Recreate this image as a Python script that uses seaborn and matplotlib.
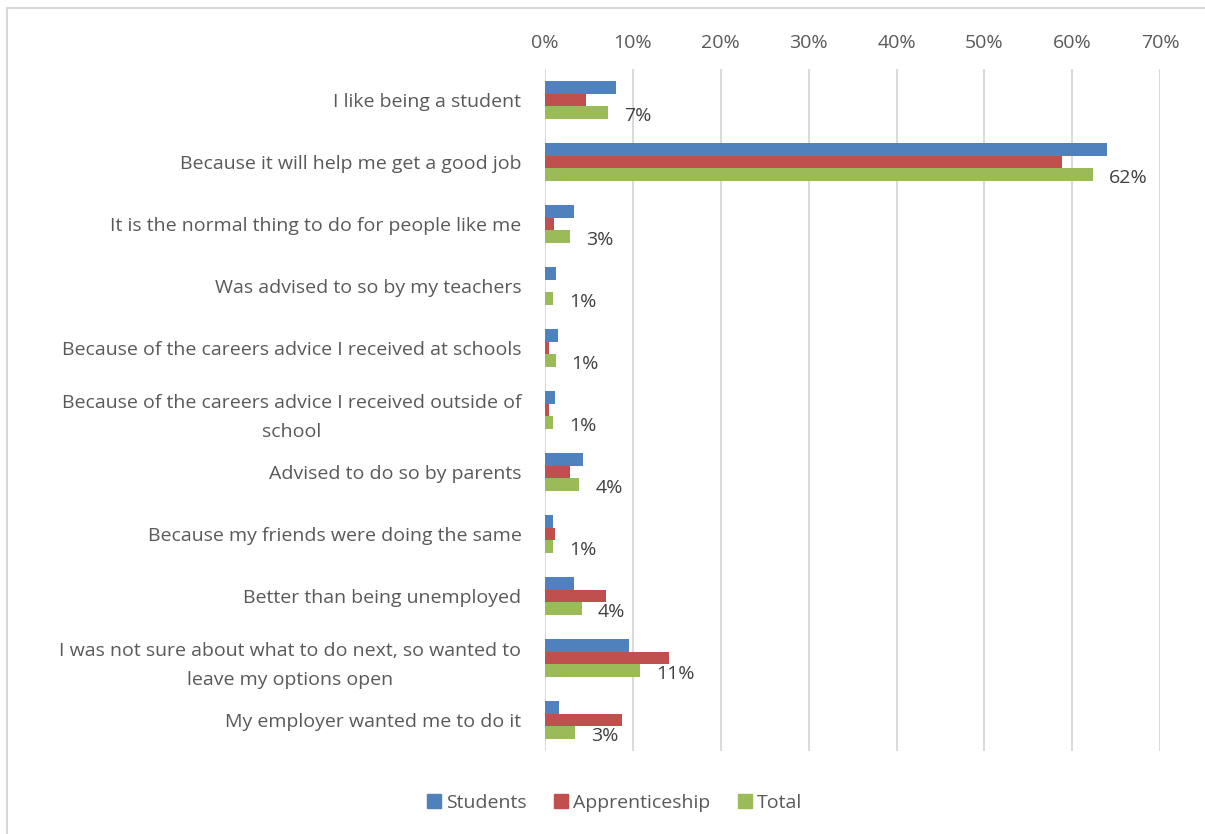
import matplotlib
matplotlib.use("Agg")
import matplotlib.pyplot as plt
from matplotlib.lines import Line2D
from matplotlib.ticker import PercentFormatter
import seaborn as sns
import pandas as pd

# Survey: reasons for choosing the current route
reasons = [
    "I like being a student",
    "Because it will help me get a good job",
    "It is the normal thing to do for people like me",
    "Was advised to so by my teachers",
    "Because of the careers advice I received at schools",
    "Because of the careers advice I received outside of\nschool",
    "Advised to do so by parents",
    "Because my friends were doing the same",
    "Better than being unemployed",
    "I was not sure about what to do next, so wanted to\nleave my options open",
    "My employer wanted me to do it",
]
students = [8.1, 64.0, 3.3, 1.3, 1.5, 1.1, 4.3, 0.9, 3.3, 9.6, 1.6]
apprenticeship = [4.7, 58.8, 1.0, 0.0, 0.5, 0.5, 2.8, 1.1, 6.9, 14.1, 8.8]
total = [7.2, 62.4, 2.8, 0.9, 1.2, 0.9, 3.9, 0.9, 4.2, 10.8, 3.4]
series_names = ["Students", "Apprenticeship", "Total"]
palette = ["#4F81BD", "#C0504D", "#9BBB59"]
x_ticks = [0, 10, 20, 30, 40, 50, 60, 70]

rows = []
for name, vals in zip(series_names, [students, apprenticeship, total]):
    for r, v in zip(reasons, vals):
        rows.append({"reason": r, "series": name, "value": v})
df = pd.DataFrame(rows)

sns.set_theme(style="white")
plt.rcParams["font.family"] = ["Open Sans", "DejaVu Sans"]
text_color = "#595959"
fs = 14

fig = plt.figure(figsize=(12.05, 8.34), dpi=100)
ax = fig.add_axes([0.4523, 0.0995, 0.5105, 0.8177])

sns.barplot(data=df, y="reason", x="value", hue="series", order=reasons,
            hue_order=series_names, palette=palette, orient="h",
            width=0.62, gap=0, saturation=1, ax=ax, legend=False,
            edgecolor="none", linewidth=0)

ax.set_xlim(0, 70)
ax.set_xticks(x_ticks)
ax.xaxis.set_major_formatter(PercentFormatter(decimals=0))
ax.xaxis.tick_top()
ax.tick_params(axis="x", length=0, pad=12, labelsize=fs, labelcolor=text_color)
ax.tick_params(axis="y", length=0, pad=17, labelsize=fs, labelcolor=text_color)
for lbl in ax.get_yticklabels():
    lbl.set_multialignment("center")
    lbl.set_linespacing(1.75)
ax.set_xlabel("")
ax.set_ylabel("")
ax.grid(axis="x", color="#D9D9D9", linewidth=1.4)
ax.grid(axis="y", visible=False)
ax.set_axisbelow(True)
for s in ax.spines.values():
    s.set_visible(False)

# value labels on the Total series only, sitting just below the bar centre
total_container = ax.containers[2]
texts = ax.bar_label(total_container, labels=[f"{v:.0f}%" for v in total],
                     padding=11.5, fontsize=fs, color="#404040")
for t in texts:
    x0, y0 = t.xyann
    t.xyann = (x0, y0 - 2.5)

handles = [Line2D([0], [0], marker="s", linestyle="none", markersize=10,
                  markerfacecolor=c, markeredgecolor=c) for c in palette]
fig.legend(handles, series_names, loc="center", bbox_to_anchor=(0.509, 0.037),
           ncol=3, frameon=False, fontsize=fs, labelcolor=text_color,
           handletextpad=0.1, columnspacing=1.3, handlelength=1.0)

# chart frame
fig.add_artist(Line2D([7 / 1205, 7 / 1205], [0, 1 - 8 / 834], transform=fig.transFigure,
                      color="#D9D9D9", linewidth=1.5))
fig.add_artist(Line2D([7 / 1205, 1], [1 - 8 / 834, 1 - 8 / 834], transform=fig.transFigure,
                      color="#D9D9D9", linewidth=1.5))

fig.savefig("out.png", dpi=100, facecolor="white")
